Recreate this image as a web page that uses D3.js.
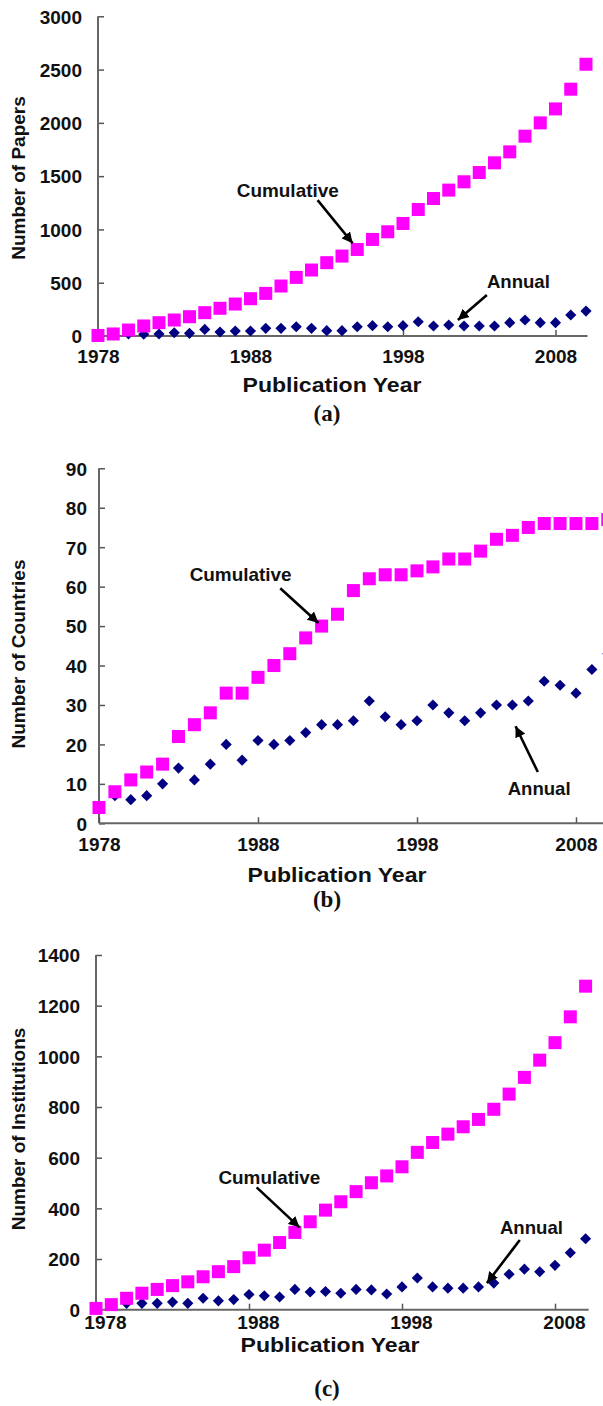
<!DOCTYPE html>
<html><head><meta charset="utf-8">
<script src="https://cdn.jsdelivr.net/npm/d3@7"></script>
<style>
html,body{margin:0;padding:0;background:#fff;}
svg{display:block;}
text{font-family:"Liberation Sans",Arial,sans-serif;font-weight:bold;fill:#111;}
</style></head>
<body>
<script>
// ---------- DATA ----------
const years = [1978,1979,1980,1981,1982,1983,1984,1985,1986,1987,1988,1989,1990,1991,1992,1993,1994,1995,1996,1997,1998,1999,2000,2001,2002,2003,2004,2005,2006,2007,2008,2009,2010];
const xTickYears = [1978,1988,1998,2008];

const papersCumulative = [5,19,56,94,125,150,181,219,260,300,350,400,469,550,619,688,750,812,906,978,1056,1187,1290,1369,1447,1534,1625,1728,1875,2000,2131,2316,2550];
const papersAnnual = [5,10,20,16,19,31,25,62,37,47,47,72,72,87,72,50,50,87,97,87,97,134,94,103,94,94,94,125,150,125,125,197,234];
const papersTicks = [0,500,1000,1500,2000,2500,3000];

const countriesCumulative = [4,8,11,13,15,22,25,28,33,33,37,40,43,47,50,53,59,62,63,63,64,65,67,67,69,72,73,75,76,76,76,76,77];
const countriesAnnual = [4,7,6,7,10,14,11,15,20,16,21,20,21,23,25,25,26,31,27,25,26,30,28,26,28,30,30,31,36,35,33,39,43];
const countriesTicks = [0,10,20,30,40,50,60,70,80,90];

const institutionsCumulative = [5,20,45,65,80,95,110,130,150,170,205,235,265,305,347,393,426,466,501,528,564,621,660,693,722,751,791,851,917,985,1054,1156,1277];
const institutionsAnnual = [5,20,25,25,25,30,25,45,35,40,60,55,50,80,70,72,65,80,78,62,90,125,90,85,85,90,105,140,160,150,175,225,280];
const institutionsTicks = [0,200,400,600,800,1000,1200,1400];

const seriesNames = ["Cumulative","Annual"];
const xTitle = "Publication Year";
const panelLetters = ["(a)","(b)","(c)"];
const yTitles = ["Number of Papers","Number of Countries","Number of Institutions"];

// ---------- LAYOUT ----------
const W = 603, H = 1406;
const svg = d3.select("body").append("svg").attr("width",W).attr("height",H);
const defs = svg.append("defs");
defs.append("marker").attr("id","ah").attr("viewBox","0 0 10 10").attr("refX",10).attr("refY",5)
  .attr("markerWidth",4.2).attr("markerHeight",4.2).attr("orient","auto").attr("markerUnits","strokeWidth")
  .append("path").attr("d","M0,0L10,5L0,10z").attr("fill","#000");

const panels = [
  {cum:papersCumulative, ann:papersAnnual, ticks:papersTicks, yMax:3000,
   x0:98, x1:555.5, ytop:16.3, ybot:336, axisEnd:2010.1, labelPad:16, xPad:14, xLabelDx:0,
   yTitleY:178, xTitleX:332, xTitleBase:392, letterBase:421,
   cumText:[1987.1,1303], cumArrow:[[1992.4,1275],[1994.7,870]],
   annText:[2003.5,450], annArrow:[[2003.5,384],[2001.6,150]]},
  {cum:countriesCumulative, ann:countriesAnnual, ticks:countriesTicks, yMax:90,
   x0:99, x1:576, ytop:468.3, ybot:823.3, axisEnd:2011, labelPad:12, xPad:14, xLabelDx:0,
   yTitleY:654, xTitleX:337, xTitleBase:882, letterBase:907,
   cumText:[1983.7,61.4], cumArrow:[[1989.4,59.6],[1991.8,50.8]],
   annText:[2003.7,7.2], annArrow:[[2005.6,13.0],[2004.2,24.6]]},
  {cum:institutionsCumulative, ann:institutionsAnnual, ticks:institutionsTicks, yMax:1400,
   x0:96, x1:555, ytop:955, ybot:1309.7, axisEnd:2010.2, labelPad:16, xPad:6, xLabelDx:9,
   yTitleY:1129, xTitleX:330, xTitleBase:1352, letterBase:1396,
   cumText:[1986.0,496], cumArrow:[[1988.5,483],[1991.3,325]],
   annText:[2004.4,300], annArrow:[[2005.7,275],[2003.55,105]]}
];

panels.forEach((p,i)=>{
  const x = d3.scaleLinear().domain([1978,2008]).range([p.x0,p.x1]);
  const y = d3.scaleLinear().domain([0,p.yMax]).range([p.ybot,p.ytop]);
  const g = svg.append("g");

  // axes
  const ya = g.append("g").attr("transform",`translate(${x(1978)},0)`)
    .call(d3.axisLeft(y).tickValues(p.ticks).tickSize(-6).tickSizeOuter(0).tickPadding(p.labelPad).tickFormat(d3.format("d")));
  ya.select(".domain").remove();
  ya.selectAll(".tick line").attr("stroke","#555").attr("stroke-width",1.5);
  ya.selectAll(".tick text").attr("font-size",19).attr("font-family","Liberation Sans, Arial, sans-serif").attr("font-weight","bold").attr("fill","#111").attr("dy","0.36em");
  g.append("line").attr("x1",x(1978)).attr("x2",x(1978)).attr("y1",y(0)).attr("y2",y(p.yMax))
    .attr("stroke","#666").attr("stroke-width",2);

  const xa = g.append("g").attr("transform",`translate(0,${y(0)})`)
    .call(d3.axisBottom(x).tickValues(xTickYears).tickSize(-6).tickSizeOuter(0).tickPadding(p.xPad).tickFormat(d3.format("d")));
  xa.select(".domain").remove();
  xa.selectAll(".tick line").attr("stroke","#555").attr("stroke-width",1.5);
  xa.selectAll(".tick text").attr("font-size",19).attr("font-family","Liberation Sans, Arial, sans-serif").attr("font-weight","bold").attr("fill","#111").attr("dx",p.xLabelDx);
  g.append("line").attr("x1",x(1978)).attr("x2",x(p.axisEnd)).attr("y1",y(0)).attr("y2",y(0))
    .attr("stroke","#666").attr("stroke-width",2);

  // titles
  g.append("text").attr("transform",`translate(25,${p.yTitleY}) rotate(-90)`).attr("text-anchor","middle")
    .attr("font-size",19).text(yTitles[i]);
  g.append("text").attr("x",p.xTitleX).attr("y",p.xTitleBase).attr("text-anchor","middle")
    .attr("font-size",20).attr("textLength",179).attr("lengthAdjust","spacingAndGlyphs").text(xTitle);
  g.append("text").attr("x",327).attr("y",p.letterBase).attr("text-anchor","middle")
    .style("font-family","Liberation Serif, Times New Roman, serif").attr("font-size",23).text(panelLetters[i]);

  // data marks: annual diamonds then cumulative squares
  const diamond = d3.symbol(d3.symbolSquare, 62);
  g.append("g").selectAll("path").data(years).join("path")
    .attr("d",diamond).attr("fill","#000080")
    .attr("transform",(d,k)=>`translate(${x(d)},${y(p.ann[k])}) rotate(45)`);
  const sq = 13;
  g.append("g").selectAll("rect").data(years).join("rect")
    .attr("x",d=>x(d)-sq/2).attr("y",(d,k)=>y(p.cum[k])-sq/2).attr("width",sq).attr("height",sq)
    .attr("fill","#ff00ff");

  // annotations
  g.append("text").attr("x",x(p.cumText[0])).attr("y",y(p.cumText[1])).attr("font-size",19)
    .attr("textLength",102).attr("lengthAdjust","spacingAndGlyphs").text(seriesNames[0]);
  g.append("text").attr("x",x(p.annText[0])).attr("y",y(p.annText[1])).attr("font-size",19)
    .attr("textLength",63).attr("lengthAdjust","spacingAndGlyphs").text(seriesNames[1]);
  [p.cumArrow,p.annArrow].forEach(a=>{
    g.append("line").attr("x1",x(a[0][0])).attr("y1",y(a[0][1])).attr("x2",x(a[1][0])).attr("y2",y(a[1][1]))
      .attr("stroke","#000").attr("stroke-width",2.6).attr("marker-end","url(#ah)");
  });
});
</script>
</body></html>
